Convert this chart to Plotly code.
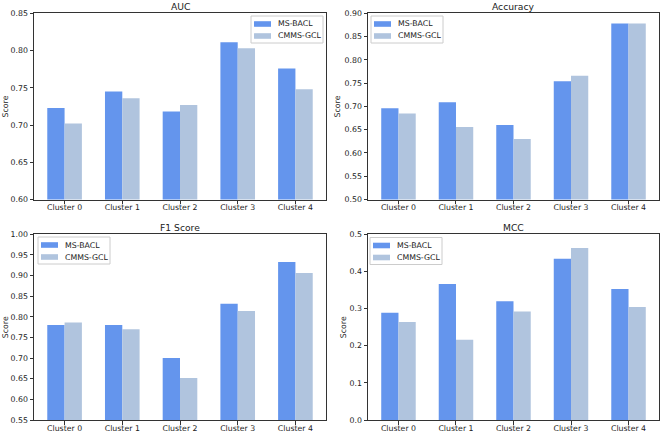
import plotly.graph_objects as go

clusters = ["Cluster 0", "Cluster 1", "Cluster 2", "Cluster 3", "Cluster 4"]
series_names = ["MS-BACL", "CMMS-GCL"]

auc_ms = [0.723, 0.745, 0.718, 0.811, 0.776]
auc_cm = [0.702, 0.736, 0.727, 0.803, 0.748]
acc_ms = [0.696, 0.709, 0.660, 0.754, 0.878]
acc_cm = [0.685, 0.656, 0.630, 0.766, 0.878]
f1_ms = [0.780, 0.780, 0.700, 0.832, 0.933]
f1_cm = [0.786, 0.770, 0.652, 0.814, 0.906]
mcc_ms = [0.289, 0.366, 0.320, 0.434, 0.353]
mcc_cm = [0.264, 0.216, 0.292, 0.463, 0.304]

titles = ["AUC", "Accuracy", "F1 Score", "MCC"]
data = [(auc_ms, auc_cm), (acc_ms, acc_cm), (f1_ms, f1_cm), (mcc_ms, mcc_cm)]
yranges = [[0.60, 0.85], [0.50, 0.90], [0.55, 1.00], [0.0, 0.5]]
ydticks = [0.05, 0.05, 0.05, 0.1]
yfmts = [".2f", ".2f", ".2f", ".1f"]

colors = ["#6495ED", "#B0C4DE"]

W, H = 661, 433
# panel frames in pixels (left, right, top, bottom)
frames = [(34, 326, 13.3, 199.5), (368, 659, 13.3, 199.5), (34, 326, 234.3, 420), (368, 659, 234.3, 420)]
# legend box top-left in px
legbox = [(251, 16), (371, 16), (38, 237), (370, 237.5)]
# y-title x centre in px
ytitle_x = [5, 337, 5, 343]

FONT = "DejaVu Sans"
TXT = "#222"
TICK_SIZE = 7.8
TITLE_SIZE = 9.2


def px_x(v):
    return v / W


def px_y(v):
    return 1 - v / H


fig = go.Figure()
layout = {}
annotations = []
shapes = []
for i in range(4):
    n = "" if i == 0 else str(i + 1)
    for s in range(2):
        fig.add_trace(go.Bar(
            x=clusters, y=data[i][s], name=series_names[s],
            marker=dict(color=colors[s], line=dict(width=0)),
            xaxis="x" + n, yaxis="y" + n, showlegend=False,
            offsetgroup=str(s),
        ))
    l, r, t, b = frames[i]
    layout["xaxis" + n] = dict(
        domain=[px_x(l), px_x(r)], anchor="y" + n, range=[-0.53, 4.53],
        showline=True, linecolor="#333", linewidth=1, mirror=True,
        ticks="outside", ticklen=3.5, tickcolor="#333", showgrid=False,
        ticklabelstandoff=-3,
        tickfont=dict(family=FONT, size=TICK_SIZE, color=TXT), automargin=False,
    )
    layout["yaxis" + n] = dict(
        domain=[px_y(b), px_y(t)], anchor="x" + n, range=yranges[i],
        dtick=ydticks[i], tick0=0, tickformat=yfmts[i],
        showline=True, linecolor="#333", linewidth=1, mirror=True,
        ticks="outside", ticklen=3.5, tickcolor="#333", showgrid=False, zeroline=False,
        tickfont=dict(family=FONT, size=TICK_SIZE, color=TXT), automargin=False,
    )
    # subplot title
    annotations.append(dict(
        text=titles[i], x=px_x((l + r) / 2), y=px_y(t - 7.3), xref="paper", yref="paper",
        xanchor="center", yanchor="middle", showarrow=False,
        font=dict(family=FONT, size=TITLE_SIZE, color=TXT),
    ))
    # y axis title
    annotations.append(dict(
        text="Score", x=px_x(ytitle_x[i]), y=px_y((t + b) / 2), xref="paper", yref="paper",
        xanchor="center", yanchor="middle", showarrow=False, textangle=-90,
        font=dict(family=FONT, size=TICK_SIZE, color=TXT),
    ))
    # legend (matplotlib style box)
    bx, by = legbox[i]
    shapes.append(dict(
        type="rect", xref="paper", yref="paper",
        x0=px_x(bx), x1=px_x(bx + 72), y0=px_y(by + 27), y1=px_y(by),
        fillcolor="rgba(255,255,255,0.8)", line=dict(color="#cccccc", width=1),
    ))
    for s in range(2):
        cy = by + 8 + 12 * s
        shapes.append(dict(
            type="rect", xref="paper", yref="paper",
            x0=px_x(bx + 3), x1=px_x(bx + 20), y0=px_y(cy + 2.8), y1=px_y(cy - 2.8),
            fillcolor=colors[s], line=dict(width=0),
        ))
        annotations.append(dict(
            text=series_names[s], x=px_x(bx + 25), y=px_y(cy), xref="paper", yref="paper",
            xanchor="left", yanchor="middle", showarrow=False,
            font=dict(family=FONT, size=TICK_SIZE, color=TXT),
        ))

fig.update_layout(
    width=W, height=H, margin=dict(l=0, r=0, t=0, b=0),
    paper_bgcolor="white", plot_bgcolor="white",
    barmode="group", bargap=0.4, bargroupgap=0,
    annotations=annotations, shapes=shapes, showlegend=False,
    **layout,
)
fig.write_html("out.html", config={"displayModeBar": False},
               post_script="document.body.style.margin='0';")
